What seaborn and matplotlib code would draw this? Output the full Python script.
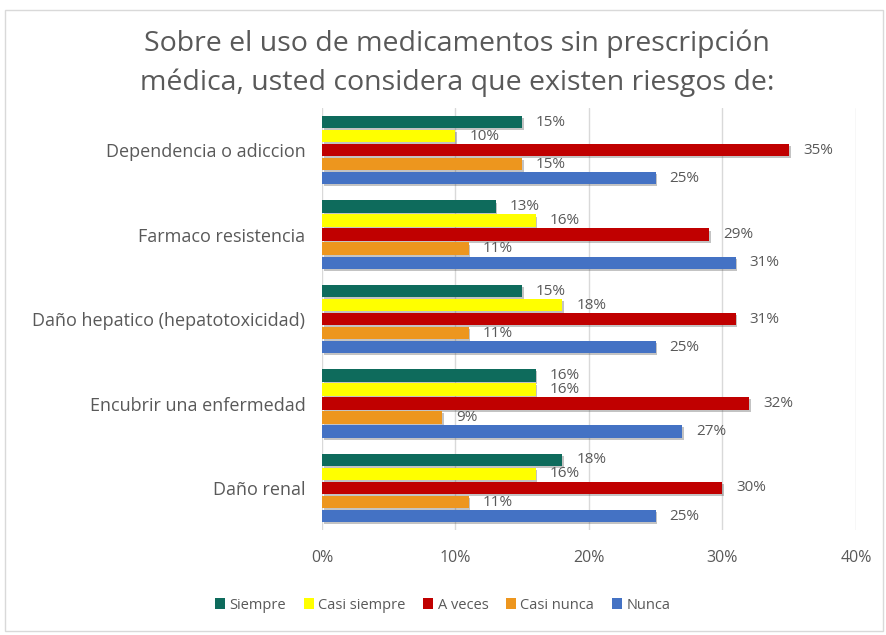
import matplotlib
matplotlib.use("Agg")
import matplotlib.pyplot as plt
import matplotlib.patheffects as pe
from matplotlib.patches import Rectangle
import seaborn as sns
import pandas as pd

categorias = [
    "Dependencia o adiccion",
    "Farmaco resistencia",
    "Daño hepatico (hepatotoxicidad)",
    "Encubrir una enfermedad",
    "Daño renal",
]
series = ["Siempre", "Casi siempre", "A veces", "Casi nunca", "Nunca"]
siempre = [15, 13, 15, 16, 18]
casi_siempre = [10, 16, 18, 16, 16]
a_veces = [35, 29, 31, 32, 30]
casi_nunca = [15, 11, 11, 9, 11]
nunca = [25, 31, 25, 27, 25]
ticks_x = [0, 10, 20, 30, 40]
colores = ["#0E6B5C", "#FFFF00", "#C00000", "#ED961E", "#4472C4"]

valores = [siempre, casi_siempre, a_veces, casi_nunca, nunca]
filas = []
for s, vals in zip(series, valores):
    for c, v in zip(categorias, vals):
        filas.append({"categoria": c, "serie": s, "valor": v})
df = pd.DataFrame(filas)

sns.set_theme(style="white")
plt.rcParams["font.family"] = ["Open Sans", "DejaVu Sans"]
gris = "#595959"

fig = plt.figure(figsize=(8.87, 6.35), dpi=100)
ax = fig.add_axes([0.363, 0.165, 0.602, 0.665])

sns.barplot(
    data=df, y="categoria", x="valor", hue="serie",
    order=categorias, hue_order=series, palette=colores,
    orient="h", width=0.83, gap=0.12, ax=ax, legend=True,
    edgecolor="none", saturation=1,
)

for cont in ax.containers:
    for bar in cont:
        bar.set_path_effects([
            pe.SimplePatchShadow(offset=(1.2, -1.5), alpha=0.35, shadow_rgbFace="#555555"),
            pe.Normal(),
        ])
    labels = [f"{v:.0f}%" for v in cont.datavalues]
    ax.bar_label(cont, labels=labels, padding=10, fontsize=11, color=gris)

ax.set_xlim(0, 40)
ax.set_xticks(ticks_x)
ax.set_xticklabels([f"{t}%" for t in ticks_x], fontsize=11.5, color=gris)
ax.tick_params(axis="x", pad=14, length=0)
ax.tick_params(axis="y", pad=12, length=0, labelsize=13, labelcolor=gris)
ax.set_xlabel("")
ax.set_ylabel("")
ax.xaxis.grid(True, color="#D9D9D9", linewidth=1)
ax.set_axisbelow(True)
for s in ax.spines.values():
    s.set_visible(False)

handles, labs = ax.get_legend_handles_labels()
ax.legend_.remove()
fig.legend(handles, labs, loc="center", bbox_to_anchor=(0.499, 0.047), ncol=5,
           frameon=False, fontsize=10.5, labelcolor=gris, handlelength=0.7,
           handleheight=0.7, handletextpad=0.3, columnspacing=1.2)

fig.text(0.515, 0.848, "Sobre el uso de medicamentos sin prescripción\nmédica, usted considera que existen riesgos de:",
         ha="center", va="bottom", fontsize=20.5, color=gris, linespacing=1.45)

fig.patches.append(Rectangle((0.006, 0.006), 0.99, 0.978, transform=fig.transFigure,
                             fill=False, edgecolor="#D9D9D9", linewidth=1))

fig.savefig("out.png", dpi=100)
